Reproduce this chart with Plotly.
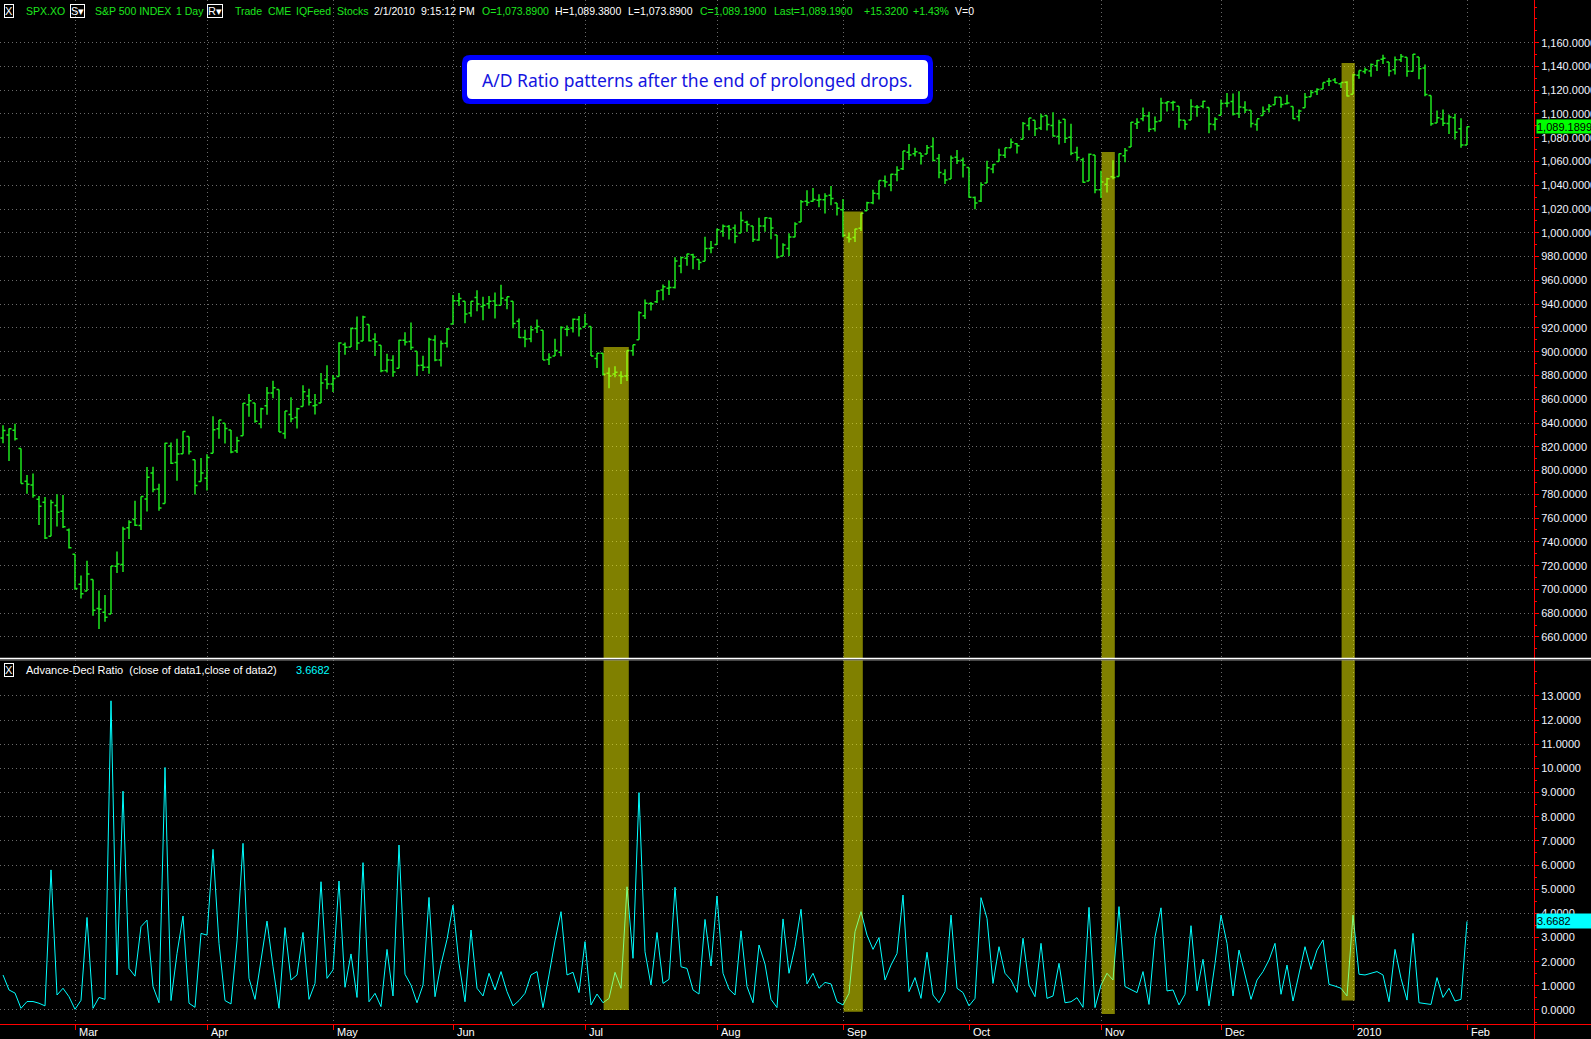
import plotly.graph_objects as go

W, H = 1591, 1039

# ---------------- data ----------------
TRADING_DAYS = {
    "2009-02": [11, 12, 13, 17, 18, 19, 20, 23, 24, 25, 26, 27],
    "2009-03": [2, 3, 4, 5, 6, 9, 10, 11, 12, 13, 16, 17, 18, 19, 20, 23, 24, 25, 26, 27, 30, 31],
    "2009-04": [1, 2, 3, 6, 7, 8, 9, 13, 14, 15, 16, 17, 20, 21, 22, 23, 24, 27, 28, 29, 30],
    "2009-05": [1, 4, 5, 6, 7, 8, 11, 12, 13, 14, 15, 18, 19, 20, 21, 22, 26, 27, 28, 29],
    "2009-06": [1, 2, 3, 4, 5, 8, 9, 10, 11, 12, 15, 16, 17, 18, 19, 22, 23, 24, 25, 26, 29, 30],
    "2009-07": [1, 2, 6, 7, 8, 9, 10, 13, 14, 15, 16, 17, 20, 21, 22, 23, 24, 27, 28, 29, 30, 31],
    "2009-08": [3, 4, 5, 6, 7, 10, 11, 12, 13, 14, 17, 18, 19, 20, 21, 24, 25, 26, 27, 28, 31],
    "2009-09": [1, 2, 3, 4, 8, 9, 10, 11, 14, 15, 16, 17, 18, 21, 22, 23, 24, 25, 28, 29, 30],
    "2009-10": [1, 2, 5, 6, 7, 8, 9, 12, 13, 14, 15, 16, 19, 20, 21, 22, 23, 26, 27, 28, 29, 30],
    "2009-11": [2, 3, 4, 5, 6, 9, 10, 11, 12, 13, 16, 17, 18, 19, 20, 23, 24, 25, 27, 30],
    "2009-12": [1, 2, 3, 4, 7, 8, 9, 10, 11, 14, 15, 16, 17, 18, 21, 22, 23, 24, 28, 29, 30, 31],
    "2010-01": [4, 5, 6, 7, 8, 11, 12, 13, 14, 15, 19, 20, 21, 22, 25, 26, 27, 28, 29],
    "2010-02": [1],
}
DATES = [f"{ym}-{d:02d}" for ym, days in TRADING_DAYS.items() for d in days]

OPEN = [
    827.41, 829.91, 833.95, 818.61, 791.06, 787.91, 775.87, 773.25, 744.69, 770.64, 765.76, 749.93,
    729.57, 704.44, 698.60, 708.27, 684.04, 680.76, 679.28, 719.59, 720.89, 751.97, 758.84, 753.88, 776.01, 797.92, 784.58, 772.31, 820.60, 806.81, 814.06, 828.68, 809.07, 790.88,
    793.59, 814.53, 835.13, 839.75, 834.12, 816.76, 829.29, 855.33, 856.88, 839.44, 854.54, 865.18, 868.27, 831.25, 847.26, 844.62, 853.91, 862.82, 854.48, 856.85, 876.59,
    872.74, 879.21, 906.10, 903.95, 919.58, 909.03, 922.99, 910.52, 905.40, 884.24, 892.76, 886.07, 909.67, 908.62, 900.42, 888.68, 887.00, 909.95, 892.96, 907.02,
    923.26, 942.87, 942.51, 932.49, 945.67, 938.12, 940.35, 942.73, 939.04, 943.44, 942.45, 925.60, 911.89, 910.86, 919.96, 918.13, 893.46, 896.31, 899.45, 918.84, 919.86, 927.15,
    920.82, 921.24, 894.27, 898.60, 881.90, 881.28, 880.03, 879.57, 900.77, 910.15, 930.17, 940.56, 942.07, 951.97, 953.40, 954.07, 972.16, 978.63, 981.48, 977.66, 976.01, 986.80,
    990.22, 1001.41, 1005.41, 1004.06, 999.83, 1008.89, 1005.77, 994.00, 1005.86, 1012.23, 998.18, 980.62, 986.88, 996.41, 1009.06, 1026.59, 1026.63, 1027.35, 1027.81, 1031.62, 1025.21,
    1019.52, 996.07, 996.12, 1003.84, 1018.67, 1025.36, 1032.99, 1043.92, 1040.15, 1049.03, 1053.99, 1067.87, 1066.60, 1067.14, 1066.35, 1072.69, 1062.56, 1049.48, 1045.38, 1063.69, 1061.02,
    1054.91, 1029.71, 1026.87, 1042.02, 1053.65, 1060.03, 1065.28, 1071.63, 1074.96, 1078.68, 1090.36, 1094.67, 1088.22, 1098.64, 1090.36, 1080.96, 1095.62, 1080.36, 1067.54, 1061.51, 1043.69, 1065.41,
    1036.18, 1040.92, 1047.14, 1047.30, 1064.95, 1072.31, 1091.86, 1096.04, 1098.31, 1087.59, 1094.13, 1109.22, 1109.44, 1106.44, 1094.66, 1094.86, 1105.83, 1106.49, 1105.47, 1091.07,
    1098.89, 1109.03, 1110.59, 1100.43, 1105.52, 1103.04, 1091.07, 1098.69, 1103.96, 1107.84, 1114.11, 1108.61, 1106.36, 1097.86, 1105.31, 1114.51, 1118.84, 1121.08, 1127.53, 1128.55, 1125.53, 1126.60,
    1116.56, 1132.66, 1135.71, 1136.27, 1140.52, 1145.96, 1143.81, 1137.31, 1145.68, 1147.72, 1136.03, 1147.95, 1138.68, 1115.49, 1092.40, 1095.80, 1091.94, 1096.93, 1087.61,
    1073.89,
]
HIGH = [
    838.22, 835.48, 839.43, 818.61, 796.17, 797.58, 778.69, 777.85, 775.49, 780.12, 779.42, 751.27,
    729.57, 711.67, 724.12, 708.27, 699.09, 695.27, 719.60, 731.92, 752.63, 758.29, 774.53, 778.12, 803.04, 803.24, 788.91, 823.37, 823.65, 826.78, 832.98, 828.68, 809.07, 810.48,
    813.62, 845.61, 842.50, 839.75, 834.12, 828.42, 856.91, 864.31, 856.88, 852.93, 870.35, 875.63, 868.27, 850.09, 861.78, 852.87, 871.80, 868.83, 864.48, 882.06, 888.70,
    880.48, 907.85, 907.70, 920.28, 929.58, 930.17, 922.99, 915.57, 905.40, 898.36, 896.97, 910.00, 916.39, 924.60, 900.42, 896.65, 911.76, 913.84, 909.45, 920.02,
    947.77, 949.38, 942.51, 942.47, 951.69, 946.33, 946.92, 949.77, 956.23, 946.30, 942.45, 928.00, 918.44, 921.93, 927.09, 918.13, 898.69, 910.85, 921.42, 922.00, 927.99, 930.01,
    931.92, 921.24, 898.72, 898.60, 886.80, 887.86, 883.57, 901.05, 905.84, 933.95, 943.96, 941.89, 951.62, 956.53, 959.83, 979.42, 979.79, 982.49, 982.35, 977.76, 996.68, 993.18,
    1003.61, 1007.12, 1006.64, 1007.09, 1018.00, 1010.12, 1005.77, 1012.78, 1013.14, 1012.60, 998.18, 991.20, 999.61, 1008.92, 1027.59, 1035.82, 1037.75, 1032.47, 1033.33, 1039.47, 1025.21,
    1028.45, 1000.34, 1003.43, 1016.48, 1026.07, 1036.34, 1044.14, 1048.18, 1049.74, 1056.04, 1068.76, 1074.77, 1071.52, 1067.28, 1073.81, 1080.15, 1066.29, 1053.47, 1065.13, 1069.62, 1063.40,
    1054.91, 1030.60, 1042.58, 1060.55, 1058.02, 1070.67, 1071.51, 1079.46, 1075.30, 1093.17, 1096.56, 1094.67, 1100.17, 1098.64, 1101.36, 1095.21, 1095.83, 1091.75, 1072.48, 1063.26, 1066.83, 1065.41,
    1052.18, 1046.36, 1061.00, 1066.65, 1071.48, 1093.19, 1096.42, 1105.37, 1101.97, 1097.79, 1113.69, 1110.52, 1111.10, 1106.44, 1094.66, 1112.38, 1107.56, 1111.18, 1105.47, 1097.24,
    1112.28, 1117.58, 1117.28, 1119.13, 1110.72, 1103.04, 1095.35, 1106.25, 1108.50, 1114.76, 1114.11, 1116.21, 1106.36, 1103.74, 1117.68, 1120.27, 1121.58, 1126.48, 1130.38, 1130.38, 1126.42, 1127.64,
    1133.87, 1136.63, 1139.19, 1142.46, 1145.39, 1149.74, 1143.81, 1148.40, 1150.41, 1147.77, 1150.45, 1147.95, 1141.58, 1115.49, 1102.97, 1103.69, 1099.51, 1100.22, 1096.45,
    1089.38,
]
LOW = [
    822.98, 808.06, 825.21, 789.17, 780.43, 777.03, 754.25, 742.37, 744.69, 752.89, 751.75, 734.52,
    699.70, 692.30, 698.60, 677.93, 666.79, 672.88, 679.28, 713.85, 714.76, 742.46, 753.37, 749.93, 765.64, 781.82, 766.20, 772.31, 805.48, 791.37, 814.06, 813.43, 779.81, 790.88,
    783.32, 814.53, 826.70, 822.79, 814.53, 814.84, 829.29, 845.35, 840.25, 835.58, 847.04, 860.87, 832.39, 826.83, 840.57, 835.45, 853.91, 854.65, 847.12, 856.85, 868.51,
    866.10, 879.21, 897.34, 903.95, 901.36, 909.03, 908.68, 896.46, 882.80, 882.52, 878.94, 886.07, 905.22, 901.37, 879.61, 883.75, 881.46, 891.87, 887.60, 903.56,
    923.26, 938.46, 923.85, 929.32, 934.13, 926.44, 936.15, 927.97, 939.04, 935.66, 919.65, 911.60, 903.78, 907.94, 915.80, 893.04, 888.86, 896.31, 896.27, 913.03, 916.18, 912.86,
    920.82, 896.42, 886.36, 879.93, 869.32, 878.45, 872.81, 875.32, 896.50, 910.15, 927.45, 934.65, 940.99, 943.22, 947.75, 953.27, 965.95, 972.29, 969.35, 968.65, 976.01, 982.85,
    990.22, 996.68, 994.31, 991.21, 999.83, 1000.99, 992.40, 993.36, 1000.82, 994.60, 978.51, 980.62, 980.62, 996.39, 1009.06, 1022.48, 1026.21, 1021.57, 1016.20, 1023.13, 1014.62,
    996.28, 991.97, 992.25, 1001.65, 1018.67, 1023.97, 1028.04, 1038.40, 1035.00, 1043.42, 1052.87, 1061.20, 1064.27, 1057.46, 1066.35, 1060.39, 1045.85, 1041.17, 1045.38, 1057.83, 1046.47,
    1029.45, 1019.95, 1025.92, 1042.02, 1050.10, 1060.03, 1063.00, 1071.63, 1066.71, 1078.68, 1086.41, 1081.53, 1086.48, 1086.16, 1080.77, 1074.31, 1075.49, 1065.23, 1060.62, 1042.19, 1043.69, 1033.38,
    1029.38, 1033.94, 1045.15, 1047.30, 1059.32, 1072.31, 1087.40, 1093.81, 1084.90, 1085.33, 1094.13, 1102.19, 1102.70, 1088.40, 1086.81, 1094.86, 1097.63, 1104.75, 1083.74, 1086.25,
    1098.89, 1105.74, 1098.74, 1096.52, 1100.83, 1088.61, 1085.95, 1098.69, 1101.34, 1107.84, 1105.35, 1107.96, 1095.88, 1093.88, 1105.31, 1114.51, 1116.00, 1121.08, 1123.51, 1126.08, 1121.94, 1114.81,
    1116.56, 1129.66, 1133.95, 1131.32, 1136.22, 1142.02, 1131.77, 1133.18, 1143.80, 1131.39, 1135.77, 1129.25, 1114.84, 1090.18, 1092.40, 1089.86, 1083.11, 1078.46, 1071.59,
    1073.89,
]
CLOSE = [
    833.74, 835.19, 826.84, 789.17, 788.42, 778.94, 770.05, 743.33, 773.14, 764.90, 752.83, 735.09,
    700.82, 696.33, 712.87, 682.55, 683.38, 676.53, 719.60, 721.36, 750.74, 756.55, 753.89, 778.12, 794.35, 784.04, 768.54, 822.92, 806.12, 813.88, 832.86, 815.94, 787.53, 797.87,
    811.08, 834.38, 842.50, 835.48, 815.55, 825.16, 856.56, 858.73, 841.50, 852.06, 865.30, 869.60, 832.39, 850.08, 843.55, 851.92, 866.23, 857.51, 855.16, 873.64, 872.81,
    877.52, 907.24, 903.80, 919.53, 907.39, 929.23, 909.24, 908.35, 883.92, 893.07, 882.88, 909.71, 908.13, 903.47, 888.33, 887.00, 910.33, 893.06, 906.83, 919.14,
    942.87, 944.74, 931.76, 942.46, 940.09, 939.14, 942.43, 939.15, 944.89, 946.21, 923.72, 911.97, 910.71, 918.37, 921.23, 893.04, 895.10, 900.94, 920.26, 918.90, 927.23, 919.32,
    923.33, 896.42, 898.72, 881.03, 879.56, 882.68, 879.13, 901.05, 905.84, 932.68, 940.74, 940.38, 951.13, 954.58, 954.07, 976.29, 979.26, 982.18, 979.62, 975.15, 986.75, 987.48,
    1002.63, 1005.65, 1002.72, 997.08, 1010.48, 1007.10, 994.35, 1005.81, 1012.73, 1004.09, 979.73, 989.67, 996.46, 1007.37, 1026.13, 1025.57, 1028.00, 1028.12, 1030.98, 1028.93, 1020.62,
    998.04, 994.75, 1003.24, 1016.40, 1025.39, 1033.37, 1044.14, 1042.73, 1049.34, 1052.63, 1068.76, 1065.49, 1068.30, 1064.66, 1071.66, 1060.87, 1050.78, 1044.38, 1062.98, 1060.61, 1057.08,
    1029.85, 1025.21, 1040.46, 1054.72, 1057.58, 1065.48, 1071.49, 1076.19, 1073.19, 1092.02, 1096.56, 1087.68, 1097.91, 1091.06, 1081.40, 1092.91, 1079.60, 1066.95, 1063.41, 1042.63, 1066.11, 1036.19,
    1042.88, 1045.41, 1046.50, 1066.63, 1069.30, 1093.08, 1093.01, 1098.51, 1087.24, 1093.48, 1109.30, 1110.32, 1109.80, 1094.90, 1091.38, 1106.24, 1105.65, 1110.63, 1091.49, 1095.63,
    1108.86, 1109.24, 1099.92, 1105.98, 1103.25, 1091.94, 1095.95, 1102.35, 1106.41, 1114.11, 1107.93, 1109.18, 1096.08, 1102.47, 1114.05, 1118.02, 1120.59, 1126.48, 1127.78, 1126.20, 1126.42, 1115.10,
    1132.99, 1136.52, 1137.14, 1141.69, 1144.98, 1146.98, 1136.22, 1145.68, 1148.46, 1136.03, 1150.23, 1138.04, 1116.48, 1091.76, 1096.78, 1092.17, 1097.50, 1084.53, 1073.87,
    1089.19,
]
AD_RATIO = [
    1.45, 0.83, 0.70, 0.07, 0.35, 0.35, 0.28, 0.17, 5.80, 0.62,
    0.90, 0.55, 0.03, 0.40, 3.83, 0.07, 0.52, 0.44, 12.80, 1.45,
    9.06, 1.72, 1.40, 3.45, 3.72, 0.97, 0.30, 10.04, 0.39, 2.34,
    3.89, 0.28, 0.11, 3.17, 3.10, 6.65, 2.76, 0.39, 0.25, 2.86,
    6.90, 1.31, 0.44, 2.07, 3.68, 1.79, 0.07, 3.41, 1.24, 1.45,
    3.21, 0.44, 1.10, 5.31, 1.31, 1.66, 5.34, 0.94, 2.32, 0.52,
    6.10, 0.34, 0.69, 0.14, 2.51, 0.58, 6.83, 1.48, 1.03, 0.30,
    1.03, 4.66, 0.55, 1.89, 2.92, 4.34, 1.93, 0.34, 3.31, 0.90,
    0.58, 1.52, 0.83, 1.59, 0.76, 0.17, 0.39, 0.69, 1.45, 1.59,
    0.10, 1.45, 2.86, 4.07, 1.45, 1.56, 0.72, 2.83, 0.21, 0.66,
    0.30, 0.48, 1.56, 0.90, 5.10, 2.14, 9.00, 2.41, 1.03, 3.21,
    1.10, 1.27, 5.08, 1.79, 1.72, 0.83, 0.66, 3.75, 1.82, 4.72,
    1.52, 0.86, 0.62, 3.28, 0.97, 0.30, 2.69, 1.90, 0.44, 0.10,
    3.77, 1.52, 2.62, 4.17, 1.08, 1.52, 0.90, 1.14, 1.08, 0.34,
    0.21, 0.69, 3.24, 4.07, 3.10, 2.51, 3.00, 1.24, 1.86, 2.34,
    4.76, 0.76, 1.34, 0.48, 2.39, 0.62, 0.30, 0.76, 3.93, 0.90,
    0.72, 0.17, 0.48, 4.65, 3.79, 1.10, 2.62, 1.52, 1.24, 0.73,
    2.97, 1.03, 0.55, 2.76, 0.48, 0.58, 1.93, 0.30, 0.34, 0.51,
    0.11, 4.25, 0.10, 1.03, 1.52, 1.24, 4.28, 0.97, 0.83, 0.72,
    1.59, 0.23, 3.03, 4.23, 0.79, 0.83, 0.21, 0.65, 3.49, 0.79,
    2.10, 0.17, 1.93, 3.93, 2.76, 0.58, 2.48, 1.45, 0.44, 1.24,
    1.59, 2.07, 2.76, 0.65, 1.86, 0.37, 1.52, 2.62, 1.68, 2.48,
    2.90, 1.06, 0.99, 0.90, 0.58, 3.93, 1.48, 1.45, 1.52, 1.59,
    1.45, 0.34, 2.51, 1.31, 0.41, 3.17, 0.30, 0.28, 0.23, 1.34,
    0.52, 0.90, 0.37, 0.44, 3.6682,
]

HL_START = ["2009-07-07", "2009-09-01", "2009-11-02", "2009-12-30"]
HL_END = ["2009-07-13", "2009-09-04", "2009-11-04", "2010-01-04"]
HL_TOP_PRICE = [904, 1018, 1068, 1143]
HL_BOTTOM_RATIO = [0.0, -0.07, -0.17, 0.39]

PRICE_TICKS = list(range(660, 1161, 20))
RATIO_TICKS = list(range(0, 14))

N = len(DATES)
assert N == len(OPEN) == len(HIGH) == len(LOW) == len(CLOSE) == len(AD_RATIO)
XI = list(range(N))

# month starts (skip the partial first month)
month_idx, month_lbl = [], []
MON = ["Jan", "Feb", "Mar", "Apr", "May", "Jun", "Jul", "Aug", "Sep", "Oct", "Nov", "Dec"]
for i, d in enumerate(DATES):
    if i > 0 and d[:7] != DATES[i - 1][:7]:
        month_idx.append(i)
        y, m = d[:4], int(d[5:7])
        month_lbl.append(y if m == 1 else MON[m - 1])

# ---------------- layout helpers ----------------
def px(x):
    return x / W


def py(y):
    return 1 - y / H


AXIS_RIGHT = 1534
TOP_BOTTOM = 658
BOT_TOP = 660
BOT_BOTTOM = 1024
BAR_PX = 6.0
XR = [-0.5, -0.5 + AXIS_RIGHT / BAR_PX]
Y1R = [642.3, 1195.9]
Y2R = [-0.58, 14.49]

GREEN = "#1ee61e"
CYAN = "#00ffff"
RED = "#ff0000"
GRID = "#6a6a6a"
FONT = "Liberation Sans, Arial, sans-serif"

fig = go.Figure()
fig.add_trace(go.Ohlc(
    x=XI, open=OPEN, high=HIGH, low=LOW, close=CLOSE,
    increasing=dict(line=dict(color=GREEN, width=1.5)),
    decreasing=dict(line=dict(color=GREEN, width=1.5)),
    tickwidth=0.42, xaxis="x", yaxis="y", hoverinfo="skip", showlegend=False,
))
fig.add_trace(go.Scatter(
    x=XI, y=AD_RATIO, mode="lines", line=dict(color=CYAN, width=1),
    xaxis="x2", yaxis="y2", hoverinfo="skip", showlegend=False,
))

common_x = dict(
    domain=[0, px(AXIS_RIGHT)], range=XR, tickmode="array", tickvals=month_idx,
    showgrid=True, gridcolor=GRID, griddash="1px,3px", gridwidth=1, automargin=False,
    zeroline=False, showline=False, showticklabels=False, fixedrange=True,
)
common_y = dict(
    side="right", showgrid=True, gridcolor=GRID, griddash="1px,3px", gridwidth=1,
    ticks="outside", ticklen=4, tickcolor=RED, tickwidth=1, automargin=False,
    tickfont=dict(size=11, color="#f2f4ff", family=FONT),
    zeroline=False, showline=False, fixedrange=True, tickmode="array",
)
fig.update_layout(
    width=W, height=H,
    margin=dict(l=0, r=0, t=0, b=0, autoexpand=False),
    paper_bgcolor="black", plot_bgcolor="black",
    font=dict(family=FONT, size=11, color="white"),
    showlegend=False,
    xaxis=dict(**common_x, anchor="y", ticks="", rangeslider=dict(visible=False)),
    xaxis2=dict(**common_x, anchor="y2", matches="x", ticks="outside", ticklen=5,
                tickcolor=RED, tickwidth=1),
    yaxis=dict(
        **common_y, domain=[py(TOP_BOTTOM), 1], range=Y1R, anchor="x",
        tickvals=PRICE_TICKS, tickformat=",.4f",
        minor=dict(dtick=10, ticklen=2, tickcolor=RED, ticks="outside", showgrid=False),
    ),
    yaxis2=dict(
        **common_y, domain=[py(BOT_BOTTOM), py(BOT_TOP)], range=Y2R, anchor="x2",
        tickvals=RATIO_TICKS, tickformat=".4f",
        minor=dict(dtick=0.5, ticklen=2, tickcolor=RED, ticks="outside", showgrid=False),
    ),
)

shapes = []
# highlight bands
for s, e, top, bot in zip(HL_START, HL_END, HL_TOP_PRICE, HL_BOTTOM_RATIO):
    x0 = DATES.index(s) + 0.1
    x1 = DATES.index(e) + 0.3
    shapes.append(dict(type="rect", xref="x", yref="y", x0=x0, x1=x1, y0=Y1R[0], y1=top,
                       fillcolor="rgba(255,255,0,0.5)", line=dict(width=0), layer="above"))
    shapes.append(dict(type="rect", xref="x2", yref="y2", x0=x0, x1=x1, y0=bot, y1=Y2R[1],
                       fillcolor="rgba(255,255,0,0.5)", line=dict(width=0), layer="above"))
# frame lines
shapes.append(dict(type="line", xref="paper", yref="paper", x0=px(AXIS_RIGHT + 0.5), x1=px(AXIS_RIGHT + 0.5),
                   y0=0, y1=1, line=dict(color=RED, width=1), layer="above"))
shapes.append(dict(type="line", xref="paper", yref="paper", x0=0, x1=1, y0=py(BOT_BOTTOM + 0.5),
                   y1=py(BOT_BOTTOM + 0.5), line=dict(color=RED, width=1), layer="above"))
shapes.append(dict(type="line", xref="paper", yref="paper", x0=0, x1=1, y0=py(658.5), y1=py(658.5),
                   line=dict(color="#ffffff", width=1.5), layer="above"))
shapes.append(dict(type="line", xref="paper", yref="paper", x0=0, x1=1, y0=py(660), y1=py(660),
                   line=dict(color="#8c8c8c", width=1), layer="above"))


def rr_path(x0, y0, x1, y1, r):
    P = lambda x, y: f"{px(x):.6f},{py(y):.6f}"
    return (f"M {P(x0 + r, y0)} L {P(x1 - r, y0)} Q {P(x1, y0)} {P(x1, y0 + r)} "
            f"L {P(x1, y1 - r)} Q {P(x1, y1)} {P(x1 - r, y1)} L {P(x0 + r, y1)} "
            f"Q {P(x0, y1)} {P(x0, y1 - r)} L {P(x0, y0 + r)} Q {P(x0, y0)} {P(x0 + r, y0)} Z")


shapes.append(dict(type="path", xref="paper", yref="paper", path=rr_path(462, 55, 933, 104, 8),
                   fillcolor="#0000ff", line=dict(width=0), layer="above"))
shapes.append(dict(type="path", xref="paper", yref="paper", path=rr_path(467, 60, 928, 99, 5),
                   fillcolor="#ffffff", line=dict(width=0), layer="above"))
fig.update_layout(shapes=shapes)

ann = []
# callout text
ann.append(dict(x=px(697), y=py(80), xref="paper", yref="paper", text="A/D Ratio patterns after the end of prolonged drops.",
                showarrow=False, xanchor="center", yanchor="middle",
                font=dict(family="Noto Sans", size=17.5, color="#1414e0")))

# header line
W_ = "#ffffff"
HF = 10.5
header = [
    (24, "SPX.XO", GREEN), (93, "S&amp;P 500 INDEX", GREEN), (174, "1 Day", GREEN),
    (233, "Trade", GREEN), (266, "CME", GREEN), (294, "IQFeed", GREEN), (335, "Stocks", GREEN),
    (372, "2/1/2010", W_), (419, "9:15:12 PM", W_),
    (480, "O=1,073.8900", GREEN), (553, "H=1,089.3800", W_), (626, "L=1,073.8900", W_),
    (698, "C=1,089.1900", GREEN), (772, "Last=1,089.1900", GREEN), (862, "+15.3200", GREEN),
    (911, "+1.43%", GREEN), (953, "V=0", W_),
]
for x, t, c in header:
    ann.append(dict(x=px(x), y=py(10.5), xref="paper", yref="paper", text=t, showarrow=False,
                    xanchor="left", yanchor="middle", font=dict(size=HF, color=c, family=FONT)))
for x, t in [(4, "X"), (70, "S▾"), (207, "R▾")]:
    ann.append(dict(x=px(x), y=py(10.5), xref="paper", yref="paper", text=t, showarrow=False,
                    xanchor="left", yanchor="middle", bordercolor="#ffffff", borderwidth=1, borderpad=0,
                    font=dict(size=11, color="#ffffff", family=FONT)))

# lower panel header
ann.append(dict(x=px(4), y=py(670), xref="paper", yref="paper", text="X", showarrow=False,
                xanchor="left", yanchor="middle", bordercolor="#ffffff", borderwidth=1, borderpad=0,
                font=dict(size=11, color="#ffffff", family=FONT)))
ann.append(dict(x=px(24), y=py(670), xref="paper", yref="paper",
                text="Advance-Decl Ratio  (close of data1,close of data2)", showarrow=False,
                xanchor="left", yanchor="middle", font=dict(size=11, color="#ffffff", family=FONT)))
ann.append(dict(x=px(294), y=py(670), xref="paper", yref="paper", text=f"{AD_RATIO[-1]:.4f}",
                showarrow=False, xanchor="left", yanchor="middle",
                font=dict(size=11, color=CYAN, family=FONT)))

# month labels
for i, lbl in zip(month_idx, month_lbl):
    ann.append(dict(x=i, y=py(1032), xref="x2", yref="paper", text=lbl, showarrow=False,
                    xanchor="left", yanchor="middle", xshift=2,
                    font=dict(size=11, color="#ffffff", family=FONT)))

# last value markers
ann.append(dict(x=px(AXIS_RIGHT + 2), y=CLOSE[-1], xref="paper", yref="y", text=f"{CLOSE[-1] - 0.0001:,.4f}",
                showarrow=False, xanchor="left", yanchor="middle", align="left", width=56, height=13,
                bgcolor="#00ff00", borderpad=0, font=dict(size=11, color="#000000", family=FONT)))
ann.append(dict(x=px(AXIS_RIGHT + 2), y=AD_RATIO[-1], xref="paper", yref="y2", text=f"{AD_RATIO[-1]:.4f}",
                showarrow=False, xanchor="left", yanchor="middle", align="left", width=56, height=14,
                bgcolor="#00ffff", borderpad=0, font=dict(size=11, color="#000000", family=FONT)))

fig.update_layout(annotations=ann)
fig.write_html(
    "out.html",
    config={"displayModeBar": False},
    post_script="document.body.style.margin='0';document.body.style.overflow='hidden';",
)
